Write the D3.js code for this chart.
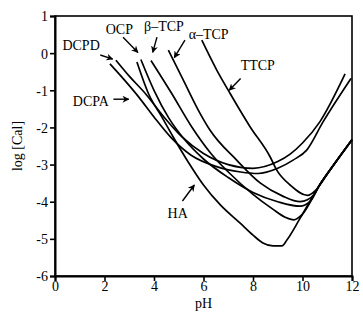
<!DOCTYPE html>
<html>
<head>
<meta charset="utf-8">
<script src="https://cdn.jsdelivr.net/npm/d3@7"></script>
<style>
  body { margin: 0; background: #fff; }
  svg text { font-family: "Liberation Serif", "Times New Roman", serif; fill: #000; }
</style>
</head>
<body>
<svg id="chart"></svg>
<script>
// pH on x, log [Ca] on y, one array per phase
const dcpd = [[2.46,-0.19],[3.0,-0.62],[3.64,-1.08],[4.4,-1.72],[5.12,-2.25],[6.0,-2.7],[7.0,-3.0],[8.0,-3.1],[9.0,-2.92],[9.5,-2.72],[10.0,-2.42],[10.7,-1.85],[11.72,-0.56]];
const dcpa = [[2.22,-0.29],[2.8,-0.72],[3.37,-1.17],[4.0,-1.72],[4.71,-2.29],[5.5,-2.75],[6.5,-3.05],[7.5,-3.2],[8.2,-3.24],[9.0,-3.1],[9.62,-2.88],[10.17,-2.61],[10.83,-1.85],[11.96,-0.68]];
const ocp = [[3.47,-0.17],[4.0,-1.0],[4.6,-1.75],[5.2,-2.3],[6.0,-2.85],[7.0,-3.35],[8.0,-3.75],[9.0,-4.0],[9.9,-4.12],[10.3,-4.0],[10.7,-3.54],[11.3,-2.97],[12.0,-2.33]];
const betaTcp = [[3.88,-0.2],[4.71,-1.08],[5.52,-1.98],[6.3,-2.7],[7.0,-3.2],[8.0,-3.8],[8.8,-4.2],[9.3,-4.42],[9.65,-4.49],[9.98,-4.35],[10.7,-3.54],[11.3,-2.97],[12.0,-2.33]];
const alphaTcp = [[4.58,0.08],[5.18,-0.72],[5.86,-1.62],[6.26,-2.07],[7.34,-2.88],[8.3,-3.5],[9.2,-3.85],[9.9,-4.0],[10.2,-3.95],[10.45,-3.82],[10.7,-3.54],[11.3,-2.97],[12.0,-2.33]];
const ttcp = [[5.93,0.35],[6.53,-0.45],[7.07,-1.08],[7.88,-1.98],[8.69,-2.79],[8.96,-3.15],[9.5,-3.55],[10.2,-3.83],[10.55,-3.68],[11.0,-3.26],[11.3,-2.97],[12.0,-2.33]];
const ha = [[3.31,-0.24],[3.77,-1.08],[4.31,-1.71],[4.77,-2.25],[5.4,-2.95],[6.0,-3.55],[6.7,-4.1],[7.47,-4.57],[8.0,-4.9],[8.4,-5.11],[8.81,-5.19],[9.17,-5.19],[9.37,-5.03],[9.9,-4.45],[10.7,-3.54],[11.3,-2.97],[12.0,-2.33]];

const seriesList = [dcpd, dcpa, ocp, betaTcp, alphaTcp, ttcp, ha];

const xTicks = [0, 2, 4, 6, 8, 10, 12];
const yTicks = [1, 0, -1, -2, -3, -4, -5, -6];

// label text, text anchor point, arrow tail, arrow tip (in pH / log units)
const labels = ["DCPD", "OCP", "\u03b2\u2013TCP", "\u03b1\u2013TCP", "TTCP", "DCPA", "HA"];
const labelPos = [[0.3, 0.22], [2.05, 0.66], [3.6, 0.72], [5.4, 0.5], [7.5, -0.33], [0.72, -1.3], [4.55, -4.3]];
const arrowFrom = [[1.83, -0.05], [2.75, 0.43], [4.12, 0.43], [5.25, 0.35], [7.5, -0.68], [2.36, -1.24], [5.15, -3.98]];
const arrowTo = [[2.33, -0.16], [3.35, 0.02], [3.95, 0.02], [4.82, -0.12], [7.04, -1.0], [2.98, -1.24], [5.63, -3.55]];

const width = 363, height = 320;
const margin = { top: 16, right: 11, bottom: 44, left: 55 };

const svg = d3.select("#chart")
    .attr("width", width)
    .attr("height", height);

const x = d3.scaleLinear().domain([0, 12]).range([margin.left, width - margin.right]);
const y = d3.scaleLinear().domain([-6, 1]).range([height - margin.bottom, margin.top]);

// arrow head
svg.append("defs").append("marker")
    .attr("id", "head")
    .attr("viewBox", "0 0 10 10")
    .attr("refX", 9)
    .attr("refY", 5)
    .attr("markerWidth", 7)
    .attr("markerHeight", 7)
    .attr("markerUnits", "userSpaceOnUse")
    .attr("orient", "auto")
    .append("path")
    .attr("d", "M0,0 L10,5 L0,10 L3,5 Z")
    .attr("fill", "#000");

// frame
svg.append("rect")
    .attr("x", x(0))
    .attr("y", y(1))
    .attr("width", x(12) - x(0))
    .attr("height", y(-6) - y(1))
    .attr("fill", "none")
    .attr("stroke", "#000")
    .attr("stroke-width", 1.6);

const xAxis = svg.append("g")
    .attr("transform", `translate(0,${y(-6)})`)
    .call(d3.axisBottom(x).tickValues(xTicks).tickSize(5).tickPadding(1).tickFormat(d3.format("d")));
const yAxis = svg.append("g")
    .attr("transform", `translate(${x(0)},0)`)
    .call(d3.axisLeft(y).tickValues(yTicks).tickSize(5).tickPadding(2).tickFormat(d => d < 0 ? "-" + Math.abs(d) : String(d)));

[xAxis, yAxis].forEach(g => {
    g.select(".domain").attr("stroke-width", 2);
    g.selectAll(".tick line").attr("stroke-width", 1.6);
    g.selectAll("text")
        .style("font-family", '"Liberation Serif", "Times New Roman", serif')
        .style("font-size", "14px")
        .attr("fill", "#000");
});
yAxis.selectAll("text").attr("dy", "0.35em");
xAxis.selectAll("text").attr("dy", "0.62em");

svg.append("text")
    .attr("x", x(6))
    .attr("y", 308)
    .attr("text-anchor", "middle")
    .style("font-size", "14px")
    .text("pH");

svg.append("text")
    .attr("transform", `translate(22,${y(-2.5)}) rotate(-90)`)
    .attr("text-anchor", "middle")
    .style("font-size", "14px")
    .text("log [Cal]");

const line = d3.line()
    .x(d => x(d[0]))
    .y(d => y(d[1]))
    .curve(d3.curveMonotoneX);

svg.append("g")
    .selectAll("path")
    .data(seriesList)
    .join("path")
    .attr("d", line)
    .attr("fill", "none")
    .attr("stroke", "#000")
    .attr("stroke-width", 1.7)
    .attr("stroke-linejoin", "round");

svg.append("g")
    .selectAll("line")
    .data(labels)
    .join("line")
    .attr("x1", (d, i) => x(arrowFrom[i][0]))
    .attr("y1", (d, i) => y(arrowFrom[i][1]))
    .attr("x2", (d, i) => x(arrowTo[i][0]))
    .attr("y2", (d, i) => y(arrowTo[i][1]))
    .attr("stroke", "#000")
    .attr("stroke-width", 1.4)
    .attr("marker-end", "url(#head)");

svg.append("g")
    .selectAll("text")
    .data(labels)
    .join("text")
    .attr("x", (d, i) => x(labelPos[i][0]))
    .attr("y", (d, i) => y(labelPos[i][1]))
    .attr("dy", "0.35em")
    .style("font-size", "14px")
    .text(d => d);
</script>
</body>
</html>
